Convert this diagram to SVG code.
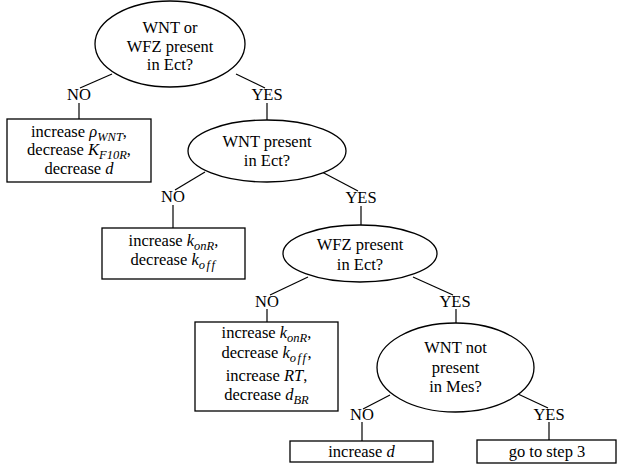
<svg xmlns="http://www.w3.org/2000/svg" width="617" height="467" viewBox="0 0 617 467">
<style>
.t{font-family:'Liberation Serif','DejaVu Serif',serif;font-size:16.5px;fill:#000;text-anchor:middle}
.m{font-style:italic}
.s{font-style:italic;font-size:12.5px}
.sh{fill:#fff;stroke:#000;stroke-width:1.3}
.c line{stroke:#000;stroke-width:1.2}
</style>
<rect width="617" height="467" fill="#fff"/>
<g class="c" id="connectors">
<line x1="112" y1="74" x2="80" y2="88"/>
<line x1="79" y1="103" x2="79" y2="119"/>
<line x1="236" y1="74" x2="265" y2="88"/>
<line x1="267" y1="103" x2="267" y2="120"/>
<line x1="205" y1="172" x2="175" y2="190"/>
<line x1="173" y1="205" x2="173" y2="228"/>
<line x1="322" y1="172" x2="358" y2="191"/>
<line x1="361" y1="206" x2="361" y2="225"/>
<line x1="308" y1="277" x2="270" y2="295"/>
<line x1="267" y1="309" x2="267" y2="322"/>
<line x1="413" y1="277" x2="453" y2="295"/>
<line x1="456" y1="309" x2="456" y2="323"/>
<line x1="390" y1="395" x2="363" y2="409"/>
<line x1="362" y1="422" x2="362" y2="441"/>
<line x1="518" y1="394" x2="548" y2="408"/>
<line x1="549" y1="422" x2="549" y2="440"/>
</g>
<g class="t" font-family="Liberation Serif, DejaVu Serif, serif">
<g id="labels">
<text x="79" y="100">NO</text>
<text x="267" y="100">YES</text>
<text x="173" y="202">NO</text>
<text x="361" y="203">YES</text>
<text x="267" y="307">NO</text>
<text x="455" y="307">YES</text>
<text x="362" y="420">NO</text>
<text x="549" y="420">YES</text>
</g>
<g id="q1">
<ellipse class="sh" cx="170" cy="44" rx="75" ry="43"/>
<text x="170" y="33">WNT or</text>
<text x="170" y="52">WFZ present</text>
<text x="170" y="70">in Ect?</text>
</g>
<g id="a1">
<rect class="sh" x="7" y="119" width="144" height="63"/>
<text x="79" y="137">increase <tspan class="m">ρ</tspan><tspan class="s" dy="4">WNT</tspan><tspan dy="-4">,</tspan></text>
<text x="79" y="155">decrease <tspan class="m">K</tspan><tspan class="s" dy="4">F10R</tspan><tspan dy="-4">,</tspan></text>
<text x="79" y="174">decrease <tspan class="m">d</tspan></text>
</g>
<g id="q2">
<ellipse class="sh" cx="267" cy="151" rx="79" ry="31"/>
<text x="267" y="147">WNT present</text>
<text x="267" y="166">in Ect?</text>
</g>
<g id="a2">
<rect class="sh" x="102" y="228" width="143" height="51"/>
<text x="173.5" y="246">increase <tspan class="m">k</tspan><tspan class="s" dy="4">onR</tspan><tspan dy="-4">,</tspan></text>
<text x="173.5" y="265">decrease <tspan class="m">k</tspan><tspan class="s" dy="4" letter-spacing="1.5">off</tspan></text>
</g>
<g id="q3">
<ellipse class="sh" cx="360" cy="253.5" rx="77" ry="28.5"/>
<text x="360" y="250">WFZ present</text>
<text x="360" y="270">in Ect?</text>
</g>
<g id="a3">
<rect class="sh" x="195" y="322" width="143" height="89"/>
<text x="266.5" y="338">increase <tspan class="m">k</tspan><tspan class="s" dy="4">onR</tspan><tspan dy="-4">,</tspan></text>
<text x="266.5" y="358">decrease <tspan class="m">k</tspan><tspan class="s" dy="4" letter-spacing="1.5">off</tspan><tspan dy="-4">,</tspan></text>
<text x="266.5" y="381">increase <tspan class="m">RT</tspan>,</text>
<text x="266.5" y="400">decrease <tspan class="m">d</tspan><tspan class="s" dy="4">BR</tspan></text>
</g>
<g id="q4">
<ellipse class="sh" cx="455.5" cy="367.5" rx="78.5" ry="44.5"/>
<text x="455.5" y="353">WNT not</text>
<text x="455.5" y="373">present</text>
<text x="455.5" y="392">in Mes?</text>
</g>
<g id="a4">
<rect class="sh" x="290" y="441" width="143" height="21"/>
<text x="361.5" y="457">increase <tspan class="m">d</tspan></text>
</g>
<g id="a5">
<rect class="sh" x="477" y="440" width="139" height="23"/>
<text x="547" y="457">go to step 3</text>
</g>
</g>
</svg>
